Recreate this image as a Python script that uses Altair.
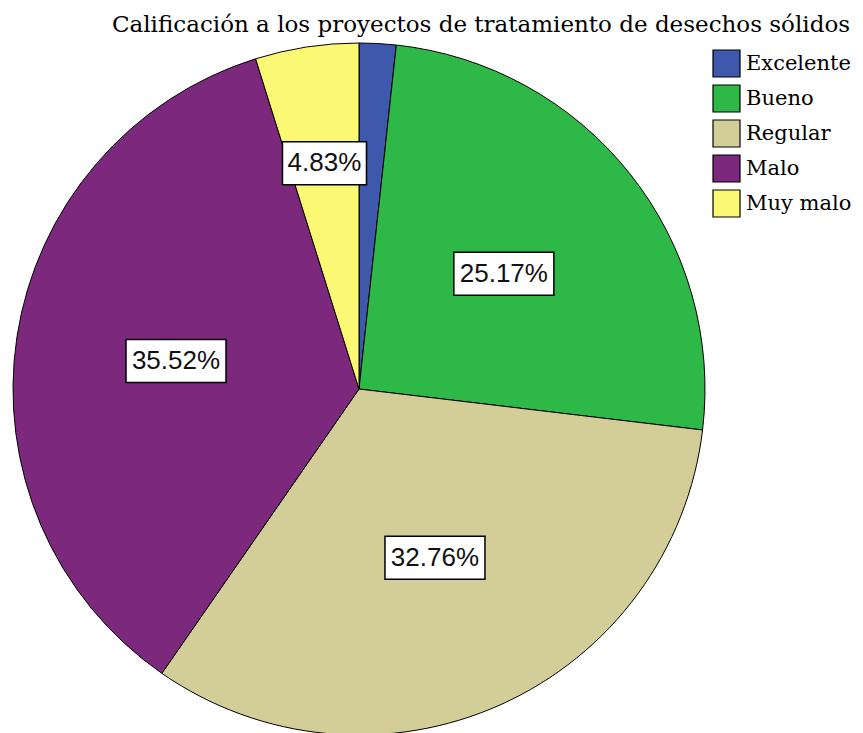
import altair as alt
import pandas as pd

titulo = "Calificación a los proyectos de tratamiento de desechos sólidos"
categorias = ["Excelente", "Bueno", "Regular", "Malo", "Muy malo"]
porcentajes = [1.72, 25.17, 32.76, 35.52, 4.83]
colores = ["#3E58AC", "#2EB848", "#D3CE97", "#7C287D", "#FBF873"]

df = pd.DataFrame({"categoria": categorias, "pct": porcentajes})

CX, CY, R = 351, 381, 346

base = alt.Chart(df).transform_window(idx="row_number()")

pie = base.mark_arc(stroke="black", strokeWidth=1, outerRadius=R).encode(
    theta=alt.Theta("pct:Q", stack=True),
    order=alt.Order("idx:Q"),
    color=alt.Color(
        "categoria:N",
        sort=categorias,
        scale=alt.Scale(domain=categorias, range=colores),
        legend=alt.Legend(
            title=None, orient="none", legendX=704, legendY=41,
            symbolType="square", symbolSize=729, symbolStrokeColor="black",
            symbolStrokeWidth=1.2, symbolOpacity=1,
            labelFont="DejaVu Serif", labelFontSize=21, labelColor="black",
            rowPadding=2, labelOffset=5, padding=0, labelLimit=200,
        ),
    ),
    x=alt.value(CX),
    y=alt.value(CY),
)

lab = (
    base.transform_joinaggregate(total="sum(pct)")
    .transform_window(cum="sum(pct)", sort=[alt.SortField("idx")], frame=[None, 0])
    .transform_calculate(mid="(datum.cum - datum.pct/2)/datum.total*2*PI")
    .transform_calculate(rr=f"datum.pct < 10 ? {0.66*R} : {0.535*R}")
    .transform_calculate(lx=f"{CX} + datum.rr*sin(datum.mid)")
    .transform_calculate(ly=f"{CY} - datum.rr*cos(datum.mid)")
    .transform_calculate(label="format(datum.pct, '.2f') + '%'")
    .transform_calculate(w="length(datum.label)*16 + 4")
    .transform_filter("datum.pct >= 3")
    .transform_calculate(x1="datum.lx - datum.w/2")
    .transform_calculate(x2="datum.lx + datum.w/2")
    .transform_calculate(y1="datum.ly - 21.5")
    .transform_calculate(y2="datum.ly + 21.5")
)

boxes = lab.mark_rect(fill="white", stroke="black", strokeWidth=1.5).encode(
    x=alt.X("x1:Q", scale=None, axis=None),
    x2="x2:Q",
    y=alt.Y("y1:Q", scale=None, axis=None),
    y2="y2:Q",
)

texts = lab.mark_text(font="Liberation Sans", fontSize=26, color="#111111",
                      baseline="middle", align="center").encode(
    x=alt.X("lx:Q", scale=None, axis=None),
    y=alt.Y("ly:Q", scale=None, axis=None),
    text="label:N",
)

title_layer = alt.Chart(alt.Data(values=[{"t": titulo}])).mark_text(
    font="DejaVu Serif", fontSize=23, baseline="alphabetic", align="center", color="black"
).encode(x=alt.value(473), y=alt.value(24), text="t:N")

chart = alt.layer(pie, boxes, texts, title_layer).properties(
    width=847, height=725, autosize=alt.AutoSizeParams(type="none"), padding=0
).configure_legend(rowPadding=2).configure_view(stroke=None)

chart.save("out.html", embed_options={"renderer": "svg", "actions": False})
